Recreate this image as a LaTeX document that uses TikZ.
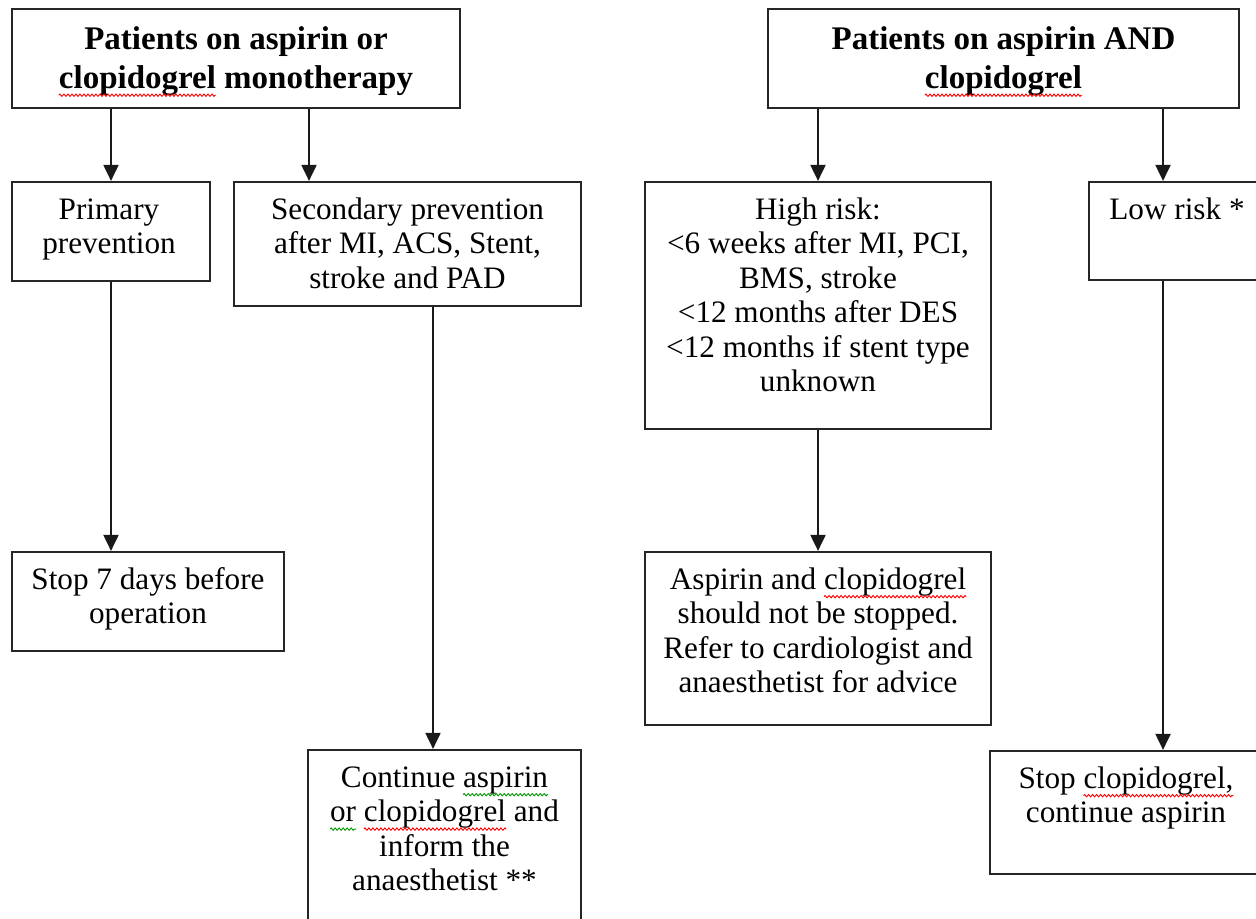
\documentclass[tikz,border=0pt]{standalone}
\usepackage{fontspec}
\setmainfont{Liberation Serif}
\usetikzlibrary{arrows.meta,fit,decorations.pathmorphing}
\newsavebox\sqbox
\newlength\sqw
\newcommand\squig[2]{\leavevmode\sbox\sqbox{#2}\setlength\sqw{\wd\sqbox}\rlap{\usebox\sqbox}\tikz[baseline=0pt]{\useasboundingbox (0pt,0pt) rectangle (\sqw,0pt);\draw[#1,line width=0.45pt,decorate,decoration={zigzag,segment length=2pt,amplitude=0.6pt}] (0pt,-3.6pt) -- (\sqw,-3.6pt);}}
\newcommand\redsq[1]{\squig{red}{#1}}
\newcommand\grsq[1]{\squig{green!60!black}{#1}}
\tikzset{
  box/.style={draw=black!85, line width=1.1pt, inner sep=0pt},
  txt/.style={anchor=north, inner sep=0pt, align=center, font=\fontsize{15.6}{17.2}\selectfont},
  hdr/.style={anchor=north, inner sep=0pt, align=center, font=\fontsize{16.5}{19.3}\selectfont\bfseries},
  arr/.style={draw=black!90, line width=1pt, -{Triangle[width=7.5pt,length=8pt]}}
}
\begin{document}
\begin{tikzpicture}[x=0.5pt,y=-0.5pt]
\useasboundingbox (0,0) rectangle (1256,919);
\fill[white] (0,0) rectangle (1256,919);
\clip (0,0) rectangle (1256,919);
% boxes
\node[box, fit={(12,9) (460,108)}] (A) {};
\node[box, fit={(768,9) (1239,108)}] (B) {};
\node[box, fit={(12,182) (210,281)}] (P) {};
\node[box, fit={(234,182) (581,306)}] (S) {};
\node[box, fit={(645,182) (991,429)}] (H) {};
\node[box, fit={(1089,182) (1266,280)}] (L) {};
\node[box, fit={(12,552) (284,651)}] (T) {};
\node[box, fit={(645,552) (991,725)}] (Q) {};
\node[box, fit={(308,750) (581,940)}] (C) {};
\node[box, fit={(990,751) (1262,874)}] (D) {};
% texts
\node[hdr] (At) at (236,22) {\strut Patients on aspirin or\\\redsq{clopidogrel} monotherapy};
\node[hdr] (Bt) at (1003.5,22) {\strut Patients on aspirin AND\\\redsq{clopidogrel}};
\node[txt] (Pt) at (109,195) {\strut Primary\\prevention};
\node[txt] (St) at (407.5,195) {\strut Secondary prevention\\after MI, ACS, Stent,\\stroke and PAD};
\node[txt] (Ht) at (818,195) {\strut High risk:\\<6 weeks after MI, PCI,\\BMS, stroke\\<12 months after DES\\<12 months if stent type\\unknown};
\node[txt, anchor=north west] (Lt) at (1109,195) {\strut Low risk *};
\node[txt] (Tt) at (148,565) {\strut Stop 7 days before\\operation};
\node[txt] (Qt) at (818,565) {\strut Aspirin and \redsq{clopidogrel}\\should not be stopped.\\Refer to cardiologist and\\anaesthetist for advice};
\node[txt] (Ct) at (444.5,763) {\strut Continue \grsq{aspirin}\\\grsq{or} \redsq{clopidogrel} and\\inform the\\anaesthetist **};
\node[txt] (Dt) at (1126,764) {\strut Stop \redsq{clopidogrel,}\\continue aspirin};
% connector x positions
\coordinate (xS) at (309,0);
\coordinate (xC) at (433,0);
\coordinate (xL) at (1163,0);
% connectors
\draw[arr] (A.south -| P.north) -- (P.north);
\draw[arr] (A.south -| xS) -- (S.north -| xS);
\draw[arr] (B.south -| H.north) -- (H.north);
\draw[arr] (B.south -| xL) -- (L.north -| xL);
\draw[arr] (P.south) -- (T.north -| P.south);
\draw[arr] (S.south -| xC) -- (C.north -| xC);
\draw[arr] (H.south) -- (Q.north);
\draw[arr] (L.south -| xL) -- (D.north -| xL);
\end{tikzpicture}
\end{document}
